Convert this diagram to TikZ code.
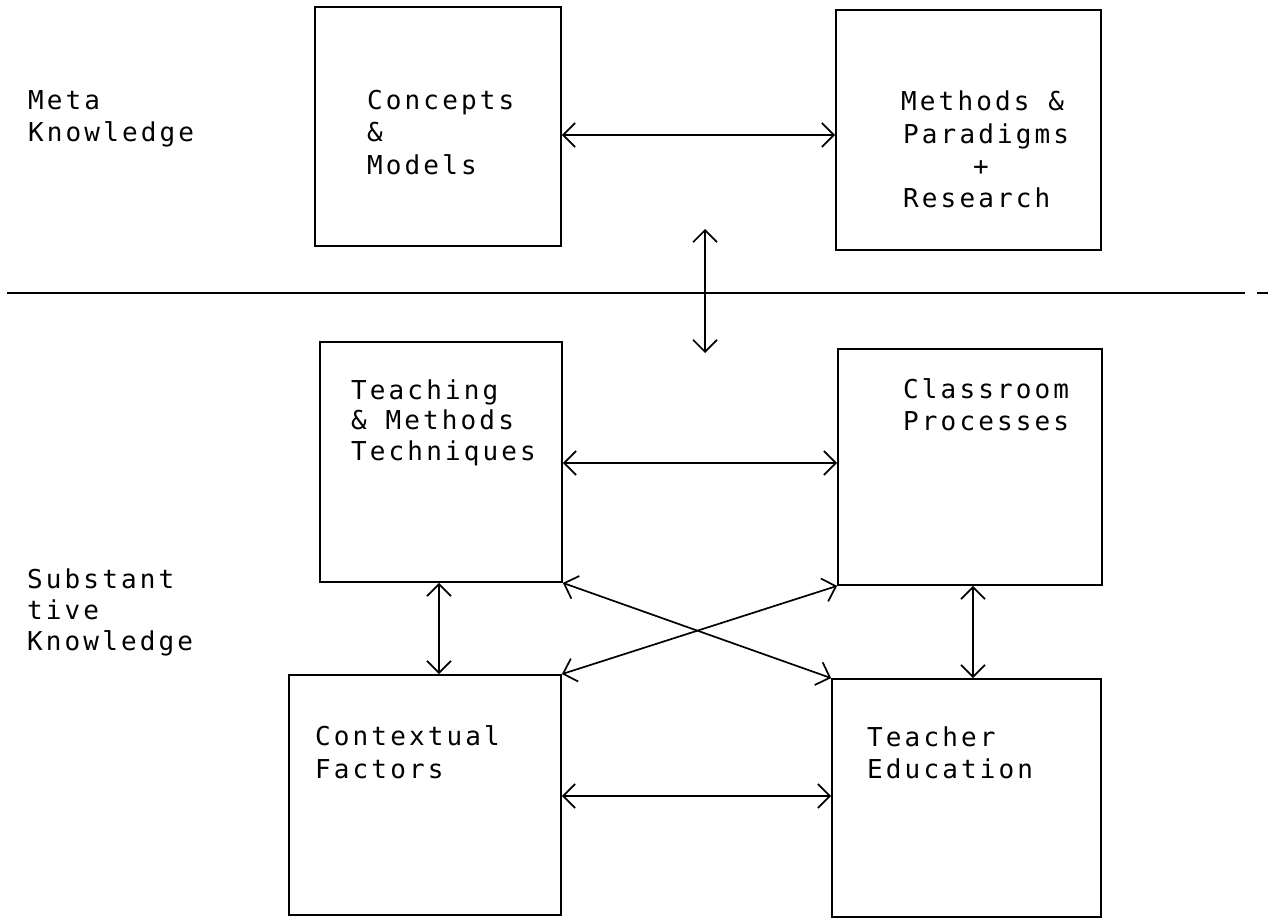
\documentclass[tikz,border=0pt]{standalone}
\usepackage{fontspec}
\newfontfamily\tw{DejaVu Sans Mono}[LetterSpace=12]
\usetikzlibrary{arrows.meta}
\tikzset{
  box/.style={draw, line width=1.8pt, rectangle, inner sep=0pt},
  txt/.style={font=\tw\fontsize{26}{30}\selectfont, anchor=base west, inner sep=0pt},
  dbl/.style={line width=1.7pt, {Straight Barb[length=12pt,width=24pt]}-{Straight Barb[length=12pt,width=24pt]}}
}
\begin{document}
\begin{tikzpicture}[x=1pt,y=-1pt]
\useasboundingbox (0,0) rectangle (1276,923);
\fill[white] (0,0) rectangle (1276,923);
% boxes
\node[box, minimum width=246pt, minimum height=239pt] (concepts) at (438,126.5) {};
\node[box, minimum width=265pt, minimum height=240pt] (methods) at (968.5,130) {};
\node[box, minimum width=242pt, minimum height=240pt] (teach) at (441,462) {};
\node[box, minimum width=264pt, minimum height=236pt] (class) at (970,467) {};
\node[box, minimum width=272pt, minimum height=240pt] (context) at (425,795) {};
\node[box, minimum width=269pt, minimum height=238pt] (teached) at (966.5,798) {};
% labels
\node[txt] (m1) at (28,110) {Meta};
\node[txt] (m2) at (28,142) {Knowledge};
\node[txt] (s1) at (27,588) {Substant};
\node[txt] (s2) at (27,619) {tive};
\node[txt] (s3) at (27,650) {Knowledge};
\node[txt] (c1) at (367,110) {Concepts};
\node[txt] (c2) at (367,142) {\&};
\node[txt] (c3) at (367,174) {Models};
\node[txt] (p1) at (901,111) {Methods \&};
\node[txt] (p2) at (903,143) {Paradigms};
\node[txt] (p3) at (973,175) {+};
\node[txt] (p4) at (903,207) {Research};
\node[txt] (e1) at (351,399) {Teaching};
\node[txt] (e2) at (351,429) {\& Methods};
\node[txt] (e3) at (351,460) {Techniques};
\node[txt] (k1) at (903,398) {Classroom};
\node[txt] (k2) at (903,430) {Processes};
\node[txt] (f1) at (315,745) {Contextual};
\node[txt] (f2) at (315,778) {Factors};
\node[txt] (d1) at (867,746) {Teacher};
\node[txt] (d2) at (867,778) {Education};
% divider
\coordinate (hl) at (7,293);
\coordinate (hr) at (1245,293);
\coordinate (dl) at (1257,293);
\coordinate (dr) at (1268,293);
\draw[line width=1.7pt] (hl) -- (hr);
\draw[line width=1.7pt] (dl) -- (dr);
% helper coordinates
\coordinate (ya) at (0,135);
\coordinate (yb) at (0,463);
\coordinate (yc) at (0,796);
\coordinate (xa) at (439,0);
\coordinate (xb) at (973,0);
\coordinate (vtop) at (705,229);
\coordinate (vbot) at (705,353);
% connectors
\draw[dbl] (concepts.east |- ya) -- (methods.west |- ya);
\draw[dbl] (vtop) -- (vbot);
\draw[dbl] (teach.east |- yb) -- (class.west |- yb);
\draw[dbl] (context.east |- yc) -- (teached.west |- yc);
\draw[dbl] (teach.south -| xa) -- (context.north -| xa);
\draw[dbl] (class.south -| xb) -- (teached.north -| xb);
\draw[dbl] (teach.south east) -- (teached.north west);
\draw[dbl] (class.south west) -- (context.north east);
\end{tikzpicture}
\end{document}
